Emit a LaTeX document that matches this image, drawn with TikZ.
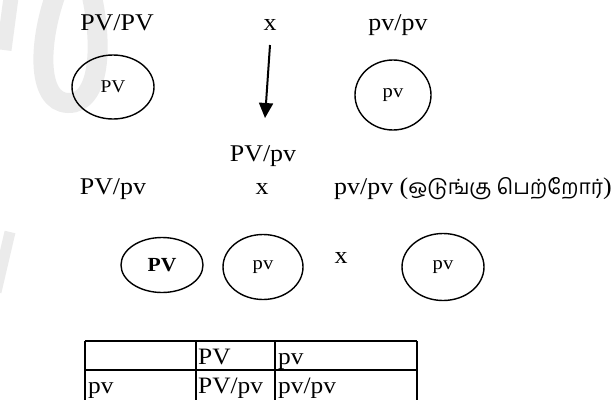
\documentclass[tikz,border=0pt]{standalone}
\usepackage{fontspec}
\setmainfont{Liberation Serif}[FakeStretch=1.08]
\newfontfamily\tamilfont[Script=Tamil]{Hind Madurai}
\usetikzlibrary{shapes.geometric,arrows.meta}
\begin{document}
\begin{tikzpicture}[x=1pt,y=-1pt,
  txt/.style={inner sep=0pt,anchor=base,font=\fontsize{24}{28}\selectfont},
  cell/.style={inner sep=0pt,anchor=base west,font=\fontsize{23.5}{28}\selectfont},
  gam/.style={draw,ellipse,line width=1.4pt,inner sep=0pt,font=\fontsize{19}{22}\selectfont},
  arr/.style={line width=2pt,-{Triangle[length=15pt,width=14pt]}},
  tline/.style={line width=1.6pt},
  wm/.style={line width=20pt,color=black!8,line cap=butt}]
\useasboundingbox (0,0) rectangle (612,399);
% watermark
\draw[wm] (58,-12) .. controls (38,40) and (36,102) .. (68,103) .. controls (100,104) and (104,45) .. (90,-12);
\draw[wm,line width=15pt] (12,-10) -- (4,50);
\draw[wm,line width=11pt] (-4,292) -- (10,232);
% row 1
\node[txt] (p1) at (117,30) {PV/PV};
\node[txt] (x1) at (270,30) {x};
\node[txt] (p2) at (398,30) {pv/pv};
\node[gam,minimum width=82pt,minimum height=64pt,font=\fontsize{18}{22}\selectfont] (g1) at (113,87) {PV};
\node[gam,minimum width=76pt,minimum height=70pt] (g2) at (393,95) {pv};
\coordinate (a1) at (270,45);
\coordinate (a2) at (265,118);
\draw[arr] (a1) -- (a2);
% row 2
\node[txt] (f1) at (263,161) {PV/pv};
% row 3
\node[txt] (f2) at (113,194) {PV/pv};
\node[txt] (x2) at (262,194) {x};
\node[txt,anchor=base west] (p3) at (334,194) {pv/pv ({\tamilfont\fontsize{21}{24}\selectfont ஒடுங்கு பெற்றோர்})};
% row 4
\node[gam,minimum width=82pt,minimum height=55pt,font=\fontsize{20}{22}\selectfont\bfseries] (gA) at (162,265) {PV};
\node[gam,minimum width=80pt,minimum height=65pt] (gB) at (263,267) {pv};
\node[txt] (x3) at (341,263) {x};
\node[gam,minimum width=82pt,minimum height=67pt] (gC) at (443,267) {pv};
% table
\coordinate (t1) at (85,341); \coordinate (t2) at (417,341);
\coordinate (t3) at (85,370); \coordinate (t4) at (417,370);
\coordinate (b1) at (85,402); \coordinate (b4) at (417,402);
\coordinate (c1) at (196,341); \coordinate (c1b) at (196,402);
\coordinate (c2) at (275,341); \coordinate (c2b) at (275,402);
\draw[tline] (t1) -- (t2);
\draw[tline] (t3) -- (t4);
\draw[tline] (t1) -- (b1);
\draw[tline] (c1) -- (c1b);
\draw[tline] (c2) -- (c2b);
\draw[tline] (t2) -- (b4);
\node[cell] (h1) at (198,364) {PV};
\node[cell] (h2) at (278,364) {pv};
\node[cell] (r1) at (88,393) {pv};
\node[cell] (r2) at (198,393) {PV/pv};
\node[cell] (r3) at (278,393) {pv/pv};
\end{tikzpicture}
\end{document}
